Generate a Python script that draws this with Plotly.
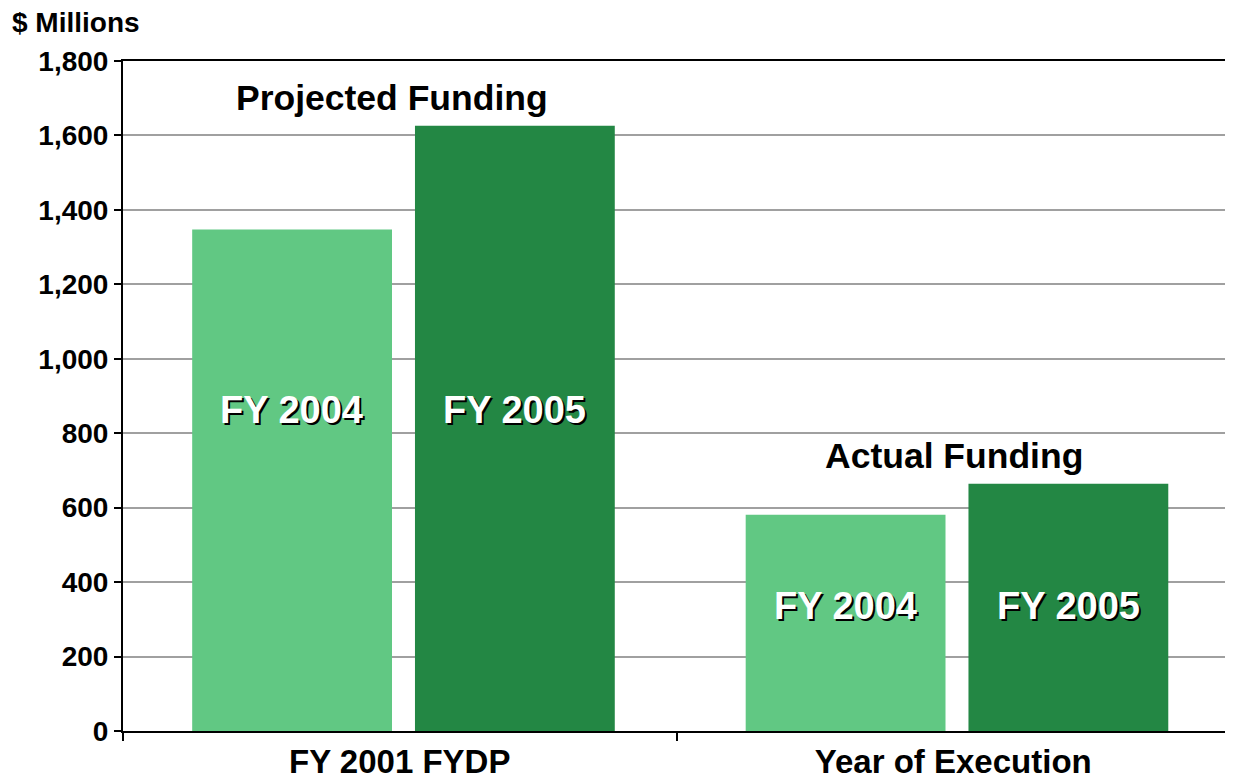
import plotly.graph_objects as go

categories = ["FY 2001 FYDP", "Year of Execution"]
fy2004 = [1347, 581]
fy2005 = [1626, 664]
series_names = ["FY 2004", "FY 2005"]
group_titles = ["Projected Funding", "Actual Funding"]
title_values = [1700, 740]
label_values = [862, 335]

light_green = "#61c883"
dark_green = "#238744"
font_family = "Liberation Sans, Arial, sans-serif"

fig = go.Figure()
fig.add_trace(go.Bar(x=categories, y=fy2004, name=series_names[0],
                     width=0.361, offset=-0.375,
                     marker=dict(color=light_green, line=dict(width=0))))
fig.add_trace(go.Bar(x=categories, y=fy2005, name=series_names[1],
                     width=0.361, offset=0.0275,
                     marker=dict(color=dark_green, line=dict(width=0))))

shadow_font = dict(family=font_family, size=38, color="white",
                   weight="bold", shadow="2px 2px 0px black")

# labels inside the bars
for cat, yv in zip(categories, label_values):
    for name, shift in zip(series_names, [-108, 115]):
        fig.add_annotation(x=cat, y=yv, xref="x", yref="y", text=name,
                           showarrow=False, xshift=shift, font=shadow_font)

# group titles above the bars
for cat, yv, txt, shift in zip(categories, title_values, group_titles, [-8, 1]):
    fig.add_annotation(x=cat, y=yv, xref="x", yref="y", text=txt,
                       showarrow=False, xshift=shift,
                       font=dict(family=font_family, size=35.5, color="black", weight="bold"))

fig.add_annotation(x=0, y=1, xref="paper", yref="paper", xanchor="left", yanchor="middle",
                   text="$ Millions", showarrow=False, xshift=-113, yshift=39,
                   font=dict(family=font_family, size=28, color="black", weight="bold"))

fig.update_layout(
    width=1225, height=773,
    margin=dict(l=115, r=1, t=53, b=45),
    paper_bgcolor="white", plot_bgcolor="white",
    barmode="overlay",
    showlegend=False,
    font=dict(family=font_family, color="black"),
)
fig.update_xaxes(
    showline=True, linecolor="black", linewidth=2, mirror=True,
    ticks="outside", tickson="boundaries", ticklen=8, tickcolor="black", tickwidth=2,
    tickfont=dict(size=33, weight="bold"),
)
fig.update_yaxes(
    range=[0, 1800], dtick=200, tickformat=",",
    showline=True, linecolor="black", linewidth=2, mirror=True,
    ticks="outside", ticklen=7, tickcolor="black", tickwidth=2,
    showgrid=True, gridcolor="#a0a0a0", gridwidth=2,
    tickfont=dict(size=28, weight="bold"),
    zeroline=False,
)

fig.write_html("out.html")
